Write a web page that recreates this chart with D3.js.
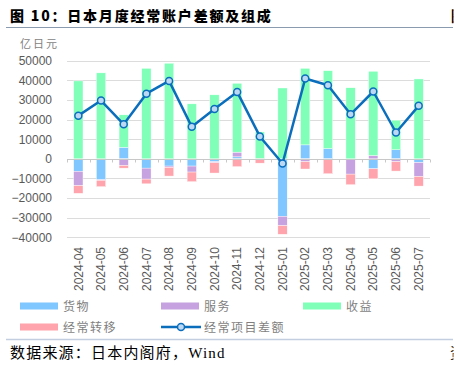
<!DOCTYPE html>
<html>
<head>
<meta charset="utf-8">
<script src="https://cdn.jsdelivr.net/npm/d3@7"></script>
<style>
  body { margin: 0; background: #fff; }
  svg { display: block; }
</style>
</head>
<body>
<div id="chart"></div>
<script>
// months on the x axis
let months = ["2024-04","2024-05","2024-06","2024-07","2024-08","2024-09","2024-10","2024-11",
              "2024-12","2025-01","2025-02","2025-03","2025-04","2025-05","2025-06","2025-07"];

// components, 亿日元
let goods     = [-6400, -10700, 5900, -4750, -3700, -3700, -1500, 1000, 0, -29300, 7100, 5250, -200, -5100, 4600, -1900];
let services  = [-7300, -300, -3400, -5600, -700, -3050, -500, 2400, 0, -4750, -1500, -300, -7600, 1700, -1500, -7100];
let income    = [39700, 43800, 16500, 46100, 48700, 28000, 32600, 35100, 13700, 36100, 39000, 39650, 36200, 42900, 15100, 40700];
let transfers = [-3900, -3200, -1350, -2400, -4400, -4900, -5250, -4000, -2200, -4400, -3700, -7300, -5400, -5100, -4750, -4900];
let balance   = [22000, 29700, 17600, 33200, 39700, 16300, 25400, 34100, 11400, -2400, 40900, 37500, 22700, 34300, 13400, 27000];

let yTicks = [-40000, -30000, -20000, -10000, 0, 10000, 20000, 30000, 40000, 50000];

let seriesNames = ["货物", "服务", "收益", "经常转移"];
let colors = ["#80c7ff", "#c6a2e0", "#80ffb9", "#ffa4ac"];
let lineColor = "#0a6ebd";

let width = 458, height = 366;
let plot = {left: 67, right: 430, top: 60.7, bottom: 237.3};

let svg = d3.select("#chart").append("svg")
    .attr("width", width)
    .attr("height", height);

// page is cut at the right edge, next chart barely shows
svg.append("clipPath").attr("id", "pageClip")
    .append("rect").attr("x", 0).attr("y", 0).attr("width", 453.5).attr("height", height);

// title and rules
svg.append("text")
    .attr("x", 10).attr("y", 21)
    .attr("font-family", "Noto Sans CJK SC")
    .attr("font-weight", 900)
    .attr("font-size", "14px")
    .attr("letter-spacing", "1.8px")
    .attr("fill", "#000")
    .text("图 10：日本月度经常账户差额及组成");
svg.append("text")
    .attr("x", 451).attr("y", 21)
    .attr("clip-path", "url(#pageClip)")
    .attr("font-family", "Noto Sans CJK SC")
    .attr("font-weight", 900)
    .attr("font-size", "14px")
    .text("图");
svg.append("line")
    .attr("x1", 6).attr("x2", 453).attr("y1", 27.5).attr("y2", 27.5)
    .attr("stroke", "#8a9bb0").attr("stroke-width", 1);
svg.append("line")
    .attr("x1", 6).attr("x2", 453).attr("y1", 339.5).attr("y2", 339.5)
    .attr("stroke", "#c3cfe0").attr("stroke-width", 1.5);

let x = d3.scaleBand().domain(months).range([plot.left, plot.right]).paddingInner(0.59).paddingOuter(0.295);
let y = d3.scaleLinear().domain([-40000, 50000]).range([plot.bottom, plot.top]);

// gridlines
svg.append("g").selectAll("line")
    .data(yTicks.filter(function(d){ return d != 0; }))
    .enter().append("line")
    .attr("x1", plot.left).attr("x2", plot.right)
    .attr("y1", function(d){ return Math.round(y(d)) + 0.5; })
    .attr("y2", function(d){ return Math.round(y(d)) + 0.5; })
    .attr("stroke", "#dcdcdc").attr("stroke-width", 1);

// y axis labels
let yAxis = svg.append("g")
    .attr("transform", "translate(" + 52 + ",0)")
    .call(d3.axisLeft(y).tickValues(yTicks).tickSize(0).tickPadding(0).tickFormat(d3.format("d")));
yAxis.select(".domain").remove();
yAxis.selectAll("text")
    .attr("font-family", "Liberation Sans, Arial, sans-serif")
    .attr("font-size", "12px")
    .attr("fill", "#595959");

svg.append("text")
    .attr("x", 20).attr("y", 48)
    .attr("font-family", "Noto Sans CJK SC")
    .attr("font-size", "11px")
    .attr("letter-spacing", "2px")
    .attr("fill", "#7f7f7f")
    .text("亿日元");

// stacked bars
let table = months.map(function(m, i){
    return {month: m, "货物": goods[i], "服务": services[i], "收益": income[i], "经常转移": transfers[i]};
});
let stack = d3.stack().keys(seriesNames).offset(d3.stackOffsetDiverging)(table);

svg.append("g").selectAll("g")
    .data(stack)
    .enter().append("g")
    .attr("fill", function(d, i){ return colors[i]; })
    .selectAll("rect")
    .data(function(d){ return d; })
    .enter().append("rect")
    .attr("x", function(d){ return x(d.data.month); })
    .attr("y", function(d){ return y(Math.max(d[0], d[1])); })
    .attr("width", x.bandwidth())
    .attr("height", function(d){ return Math.abs(y(d[0]) - y(d[1])); })
    .attr("stroke", "#fff").attr("stroke-width", 0.4);

// zero axis with ticks between categories
let zeroY = Math.round(y(0)) + 0.5;
svg.append("line")
    .attr("x1", plot.left).attr("x2", plot.right)
    .attr("y1", zeroY).attr("y2", zeroY)
    .attr("stroke", "#c8c8c8").attr("stroke-width", 1);
let step = x.step();
svg.append("g").selectAll("line")
    .data(d3.range(months.length + 1))
    .enter().append("line")
    .attr("x1", function(i){ return Math.round(plot.left + i * step) + 0.5; })
    .attr("x2", function(i){ return Math.round(plot.left + i * step) + 0.5; })
    .attr("y1", zeroY).attr("y2", zeroY + 3)
    .attr("stroke", "#c8c8c8");

// x labels
svg.append("g").selectAll("text")
    .data(months)
    .enter().append("text")
    .attr("transform", function(d){ return "translate(" + (x(d) + x.bandwidth() / 2) + "," + 247 + ") rotate(-90)"; })
    .attr("dy", "0.35em")
    .attr("text-anchor", "end")
    .attr("font-family", "Liberation Sans, Arial, sans-serif")
    .attr("font-size", "12px")
    .attr("fill", "#595959")
    .text(function(d){ return d; });

// balance line
let line = d3.line()
    .x(function(d, i){ return x(months[i]) + x.bandwidth() / 2; })
    .y(function(d){ return y(d); });
svg.append("path")
    .datum(balance)
    .attr("d", line)
    .attr("fill", "none")
    .attr("stroke", lineColor)
    .attr("stroke-width", 2.5)
    .attr("stroke-linejoin", "round");
svg.append("g").selectAll("circle")
    .data(balance)
    .enter().append("circle")
    .attr("cx", function(d, i){ return x(months[i]) + x.bandwidth() / 2; })
    .attr("cy", function(d){ return y(d); })
    .attr("r", 3.5)
    .attr("fill", "#bcd8f2")
    .attr("stroke", lineColor)
    .attr("stroke-width", 1.5);

// legend
let legendItems = [
    {name: "货物", x: 20, y: 306, type: "bar", color: colors[0]},
    {name: "服务", x: 161, y: 306, type: "bar", color: colors[1]},
    {name: "收益", x: 303, y: 306, type: "bar", color: colors[2]},
    {name: "经常转移", x: 20, y: 327, type: "bar", color: colors[3]},
    {name: "经常项目差额", x: 161, y: 327, type: "line", color: lineColor}
];
let legend = svg.append("g").selectAll("g")
    .data(legendItems)
    .enter().append("g")
    .attr("transform", function(d){ return "translate(" + d.x + "," + d.y + ")"; });
legend.filter(function(d){ return d.type == "bar"; })
    .append("rect")
    .attr("x", 0).attr("y", -3.5)
    .attr("width", 38).attr("height", 7)
    .attr("fill", function(d){ return d.color; });
let lg = legend.filter(function(d){ return d.type == "line"; });
lg.append("line")
    .attr("x1", 0).attr("x2", 40).attr("y1", 0).attr("y2", 0)
    .attr("stroke", lineColor).attr("stroke-width", 2.5);
lg.append("circle")
    .attr("cx", 20).attr("cy", 0).attr("r", 3.5)
    .attr("fill", "#bcd8f2").attr("stroke", lineColor).attr("stroke-width", 1.5);
legend.append("text")
    .attr("x", 43).attr("y", 0)
    .attr("dy", "0.38em")
    .attr("font-family", "Noto Sans CJK SC")
    .attr("font-size", "12px")
    .attr("letter-spacing", "1.5px")
    .attr("fill", "#7f7f7f")
    .text(function(d){ return d.name; });

// source
svg.append("text")
    .attr("x", 10).attr("y", 358)
    .attr("font-family", "Liberation Serif, Noto Sans CJK SC")
    .attr("font-size", "15px")
    .attr("letter-spacing", "1.2px")
    .attr("fill", "#000")
    .text("数据来源：日本内阁府，Wind");
svg.append("text")
    .attr("x", 450).attr("y", 358)
    .attr("clip-path", "url(#pageClip)")
    .attr("font-family", "Noto Sans CJK SC")
    .attr("font-size", "15px")
    .attr("fill", "#000")
    .text("资");
</script>
</body>
</html>
